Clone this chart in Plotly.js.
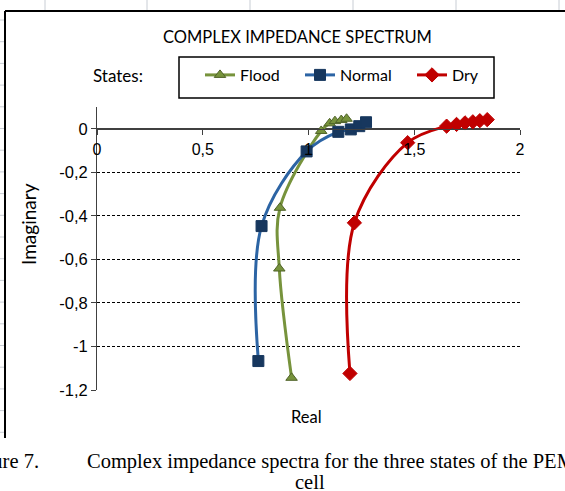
<!DOCTYPE html>
<html>
<head>
<meta charset="utf-8">
<script src="https://cdn.plot.ly/plotly-3.0.1.min.js"></script>
<style>
html,body{margin:0;padding:0;background:#fff;}
#chart{width:565px;height:491px;}
</style>
</head>
<body>
<div id="chart"></div>
<script>
// Series data (Real, Imaginary)
const floodReal = [0.92, 0.862, 0.865, 1.06, 1.10, 1.125, 1.155, 1.18];
const floodImag = [-1.144, -0.642, -0.363, -0.01, 0.025, 0.035, 0.04, 0.046];

const normalReal = [0.763, 0.778, 0.991, 1.141, 1.20, 1.24, 1.272];
const normalImag = [-1.067, -0.447, -0.104, -0.014, -0.003, 0.012, 0.03];

const dryReal = [1.196, 1.217, 1.469, 1.653, 1.70, 1.74, 1.777, 1.81, 1.845];
const dryImag = [-1.124, -0.432, -0.064, 0.012, 0.02, 0.027, 0.032, 0.037, 0.042];

const seriesNames = ["Flood", "Normal", "Dry"];
const xTickVals = [0, 0.5, 1, 1.5, 2];
const xTickText = ["0", "0,5", "1", "1,5", "2"];
const yTickVals = [0, -0.2, -0.4, -0.6, -0.8, -1, -1.2];
const yTickText = ["0", "-0,2", "-0,4", "-0,6", "-0,8", "-1", "-1,2"];

const chartTitle = "COMPLEX IMPEDANCE SPECTRUM";
const xTitle = "Real";
const yTitle = "Imaginary";
const legendLabel = "States:";
const captionLabel = "Figure 7.";
const captionLine1 = "Complex impedance spectra for the three states of the PEM";
const captionLine2 = "cell";

const W = 565, H = 491;
const L = 97, R = 45, T = 107, B = 101;
const pw = W - L - R, ph = H - T - B;
const px = v => (v - L) / pw;          // pixel x -> paper x
const py = v => (H - B - v) / ph;      // pixel y -> paper y

const calibri = "Lato, 'Open Sans', sans-serif";
const arial = "'Liberation Sans', Arial, sans-serif";
const times = "'Liberation Serif', 'Times New Roman', serif";

const traces = [
  {
    x: floodReal, y: floodImag, name: seriesNames[0], type: "scatter", mode: "lines+markers",
    legendwidth: 55,
    line: {color: "#77933C", width: 3, shape: "spline", smoothing: 1},
    marker: {symbol: "triangle-up", size: 10, color: "#77933C", line: {color: "#4F6228", width: 1}}
  },
  {
    x: normalReal, y: normalImag, name: seriesNames[1], type: "scatter", mode: "lines+markers",
    legendwidth: 67,
    line: {color: "#2C64A4", width: 3, shape: "spline", smoothing: 1},
    marker: {symbol: "square", size: 11, color: "#17375E", line: {color: "#17375E", width: 1}}
  },
  {
    x: dryReal, y: dryImag, name: seriesNames[2], type: "scatter", mode: "lines+markers",
    legendwidth: 30,
    line: {color: "#C00000", width: 3, shape: "spline", smoothing: 1},
    marker: {symbol: "diamond", size: 11, color: "#C00000", line: {color: "#C00000", width: 1}}
  }
];

const shapes = [];
// outer chart frame
shapes.push({type: "line", xref: "paper", yref: "paper", x0: px(5), x1: px(5), y0: py(11), y1: py(438), line: {color: "#000", width: 2}});
shapes.push({type: "line", xref: "paper", yref: "paper", x0: px(5), x1: px(570), y0: py(11), y1: py(11), line: {color: "#000", width: 2}});
// spreadsheet cell borders behind the chart
[45, 147, 250, 353, 456, 559].forEach(function (xx) {
  shapes.push({type: "line", xref: "paper", yref: "paper", x0: px(xx), x1: px(xx), y0: py(0), y1: py(10), line: {color: "#c8cdd4", width: 1}});
});
for (let yy = 20; yy < 440; yy += 21.7) {
  shapes.push({type: "line", xref: "paper", yref: "paper", x0: px(0), x1: px(4), y0: py(yy), y1: py(yy), line: {color: "#c8cdd4", width: 1}});
}
// legend frame
shapes.push({type: "rect", xref: "paper", yref: "paper", x0: px(179), x1: px(494), y0: py(57), y1: py(98), line: {color: "#000", width: 1.5}, fillcolor: "rgba(0,0,0,0)"});

const annotations = [
  {text: chartTitle, xref: "paper", yref: "paper", x: px(297), y: py(37), xanchor: "center", yanchor: "middle", showarrow: false, font: {family: calibri, size: 16.5, color: "#000"}},
  {text: legendLabel, xref: "paper", yref: "paper", x: px(91), y: py(75), xanchor: "left", yanchor: "middle", showarrow: false, font: {family: calibri, size: 17, color: "#000"}},
  {text: xTitle, xref: "paper", yref: "paper", x: px(306), y: py(417), xanchor: "center", yanchor: "middle", showarrow: false, font: {family: calibri, size: 16.5, color: "#000"}},
  {text: yTitle, xref: "paper", yref: "paper", x: px(28), y: py(224), xanchor: "center", yanchor: "middle", textangle: -90, showarrow: false, font: {family: calibri, size: 19, color: "#000"}},
  {text: captionLabel, xref: "paper", yref: "paper", x: px(41), y: py(461), xanchor: "right", yanchor: "middle", showarrow: false, font: {family: times, size: 20.5, color: "#000"}},
  {text: captionLine1, xref: "paper", yref: "paper", x: px(85), y: py(461), xanchor: "left", yanchor: "middle", showarrow: false, font: {family: times, size: 20.5, color: "#000"}},
  {text: captionLine2, xref: "paper", yref: "paper", x: px(310), y: py(482), xanchor: "center", yanchor: "middle", showarrow: false, font: {family: times, size: 20.5, color: "#000"}}
];

const layout = {
  width: W, height: H,
  margin: {l: L, r: R, t: T, b: B, pad: 0},
  paper_bgcolor: "#fff", plot_bgcolor: "#fff",
  showlegend: true,
  legend: {
    orientation: "h", x: px(200), y: py(58), xanchor: "left", yanchor: "top",
    bgcolor: "rgba(0,0,0,0)", borderwidth: 0,
    font: {family: calibri, size: 16, color: "#000"},
    itemwidth: 30, entrywidthmode: "pixels"
  },
  xaxis: {
    range: [0, 2], anchor: "free", position: py(129.3),
    tickmode: "array", tickvals: xTickVals, ticktext: xTickText,
    showline: true, linecolor: "#404040", linewidth: 1,
    ticks: "outside", ticklen: 5, tickcolor: "#404040",
    showgrid: false, zeroline: false,
    tickfont: {family: arial, size: 16, color: "#000"},
    ticklabelstandoff: 0
  },
  yaxis: {
    range: [-1.2, 0.1],
    tickmode: "array", tickvals: yTickVals, ticktext: yTickText,
    showline: true, linecolor: "#404040", linewidth: 1,
    ticks: "outside", ticklen: 5, tickcolor: "#404040",
    showgrid: true, gridcolor: "#000", gridwidth: 1, griddash: "3px,2px",
    zeroline: true, zerolinecolor: "#404040", zerolinewidth: 1,
    tickfont: {family: arial, size: 16.5, color: "#000"}
  },
  shapes: shapes,
  annotations: annotations
};

Plotly.newPlot("chart", traces, layout, {displayModeBar: false, staticPlot: true});
</script>
</body>
</html>
